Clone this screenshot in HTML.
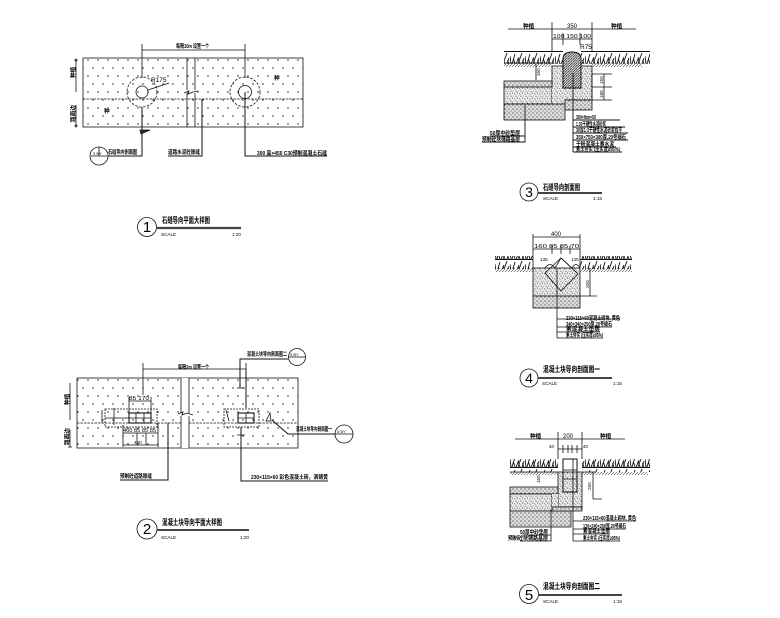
<!DOCTYPE html>
<html><head><meta charset="utf-8"><style>
html,body{margin:0;padding:0;background:#fff;width:780px;height:618px;overflow:hidden}
svg{display:block;filter:blur(.25px)}
text{font-family:"Liberation Sans","Noto Sans CJK SC",sans-serif;fill:#000}
.c{font-weight:700;font-size:5.6px}
.s{font-size:4.6px}
.d{font-size:6.5px}
.t{font-size:8px;font-weight:700}
.n{font-size:15px;text-anchor:middle}
</style></head><body>
<svg width="780" height="618" viewBox="0 0 780 618" xmlns="http://www.w3.org/2000/svg">
<defs>
<pattern id="dots" width="10" height="16" patternUnits="userSpaceOnUse"><circle cx="3" cy="4" r=".7" fill="#111"/><circle cx="8" cy="12" r=".7" fill="#111"/></pattern>
<pattern id="spk" width="5" height="5" patternUnits="userSpaceOnUse"><rect width="5" height="5" fill="#eee"/><circle cx="1" cy="1.2" r=".5" fill="#222"/><circle cx="3.6" cy="1" r=".4" fill="#444"/><circle cx="2.4" cy="3" r=".55" fill="#222"/><circle cx="4.4" cy="3.8" r=".45" fill="#333"/><circle cx=".8" cy="4.3" r=".4" fill="#444"/></pattern>
<pattern id="grav" width="4" height="4" patternUnits="userSpaceOnUse"><rect width="4" height="4" fill="#ddd"/><circle cx="1" cy="1" r=".6" fill="#333"/><circle cx="3" cy="3" r=".55" fill="#444"/></pattern>
<pattern id="hat" width="2.5" height="2.5" patternUnits="userSpaceOnUse"><rect width="2.5" height="2.5" fill="#ddd"/><path d="M0 2.5L2.5 0" stroke="#222" stroke-width=".7"/></pattern>
<pattern id="grass" width="15" height="13" patternUnits="userSpaceOnUse"><path d="M1 12L0 4M2 12L5 2M5 12L3.5 7M6 12L9 5M8 12L12 1M10 12L8 6M12 12L14 6M14 12L12.5 8" stroke="#111" stroke-width=".9" fill="none"/><path d="M0 12.5H15" stroke="#111"/></pattern>
<pattern id="soil" width="3" height="3" patternUnits="userSpaceOnUse"><path d="M0 3L3 0" stroke="#444" stroke-width=".6"/></pattern>
</defs>
<rect width="780" height="618" fill="#fff"/>
<g fill="none" stroke="#111" stroke-width=".8">

<!-- Plan 1 -->
<rect x="83" y="58" width="220" height="69" fill="url(#dots)"/>
<path d="M83 99H303" stroke-dasharray="2.5 1"/>
<path d="M187 58V90M195 58V90M187 93V127M195 93V127M184 93L189 91L188 94L193 92L198 91"/>
<circle cx="142" cy="92" r="15" stroke-dasharray="2.5 1.5"/><circle cx="142" cy="92" r="6"/>
<circle cx="245" cy="92" r="15" stroke-dasharray="2.5 1.5"/><circle cx="245" cy="92" r="6.5"/>
<path d="M148 90L169 83"/>
<path d="M142 44V78M245 44V78M142 50H245M76 60V92M76 105V126"/>
<circle cx="76" cy="60" r="1"/><circle cx="76" cy="126" r="1"/>
<path d="M142 107V156H108M202 99V156H168M245 92V156H327" stroke-width="1"/>
<path d="M140 130H150L141 134Z" fill="#333"/>
<circle cx="99" cy="156" r="9"/><path d="M91 156H107M99 147V156"/>
<circle cx="147" cy="227" r="9.5"/>
<path d="M157 228H241" stroke-width="2.2" stroke="#444"/>

<!-- Plan 2 -->
<rect x="77" y="378" width="221" height="70" fill="url(#dots)"/>
<path d="M77 423H298" stroke-dasharray="2.5 1"/>
<rect x="181" y="378" width="8" height="70" fill="#fff" stroke="none"/>
<path d="M181 378V413M189 378V413M181 416V448M189 416V448M178 414L183 412L182 415L187 413L193 415"/>
<path d="M143 363V395M246 363V395M143 369H246M70 383V420M70 430V447M68 447H72"/>
<rect x="105" y="409" width="52" height="18" stroke-dasharray="2 1"/>
<rect x="129" y="413" width="22" height="10" stroke-width="1.1"/>
<path d="M136 413V423M144 413V423M129 418H151M105 418H129M129 397V413M151 397V413M129 401H151M123 425V447M158 423V447M123 433H158M123 445H158M102 410V423M114 408V425M137 433V445M146 433V445"/>
<rect x="224" y="409" width="35" height="18" stroke-dasharray="2 1"/>
<rect x="238" y="413" width="16" height="10" stroke-width="1.1"/>
<path d="M246 413V423M238 418H254M226 410L229 421M237 388H245M237 435H245M270 413L266 421H271Z"/>
<path d="M240 388V359H288M246 369V408M168 423V480H120M241 427V481H328M272 420L288 434H335" stroke-width="1"/>
<circle cx="297" cy="357" r="8.5"/><path d="M289 357H305"/>
<circle cx="344" cy="434" r="9"/><path d="M335 434H353"/>
<circle cx="147" cy="529" r="10"/>
<path d="M157 530H249" stroke-width="2" stroke="#444"/>

<!-- Section 3 -->
<rect x="504" y="51" width="59" height="13" fill="url(#grass)" stroke="none"/>
<rect x="581" y="51" width="69" height="13" fill="url(#grass)" stroke="none"/>
<rect x="504" y="64" width="48" height="3" fill="url(#soil)" stroke="none"/><rect x="592" y="64" width="50" height="3" fill="url(#soil)" stroke="none"/>
<rect x="552" y="66" width="40" height="34" fill="url(#spk)"/>
<rect x="504" y="81" width="48" height="6" fill="url(#grav)"/>
<rect x="504" y="87" width="48" height="17" fill="url(#spk)"/>
<rect x="552" y="87" width="13" height="17" fill="url(#spk)" stroke="none"/>
<rect x="504" y="104" width="61" height="16" fill="url(#grav)"/>
<rect x="565" y="100" width="27" height="10" fill="url(#grav)"/>
<path d="M563 88V59Q563 52 572 52Q581 52 581 59V88Z" fill="url(#hat)" stroke-width="1"/>
<path d="M508 29H636M552 22V52M592 22V52M552 39H592M563 33V45M580 33V45M504 63H552M592 74V100M592 74H612M592 100H612M604 74V100M592 87H612M536 64V80"/>
<path d="M573 73V152M573 120H620M573 127H625M573 133H628M573 140H628M573 147H616M573 152H622M525 105V142H482M525 136H490" stroke-width=".9"/>
<circle cx="529" cy="192" r="9"/>
<path d="M538 193H602" stroke-width="2" stroke="#444"/>

<!-- Section 4 -->
<rect x="495" y="256" width="38" height="13" fill="url(#grass)" stroke="none"/>
<rect x="580" y="256" width="52" height="13" fill="url(#grass)" stroke="none"/>
<rect x="495" y="269" width="38" height="3" fill="url(#soil)" stroke="none"/><rect x="580" y="269" width="52" height="3" fill="url(#soil)" stroke="none"/>
<rect x="533" y="268" width="47" height="28" fill="url(#spk)"/>
<rect x="533" y="296" width="47" height="12" fill="url(#grav)"/>
<path d="M545 268Q550 261 555 268L561 258L572 268Q576 261 580 268"/>
<path d="M545 273L561 258L578 274L561 291Z"/>
<path d="M533 234V268M580 234V268M533 237H580M533 249H580M552 245V254M561 245V254M570 245V254M580 296H597M590 268V296M557 268V338M557 319H620M557 327H612M557 332H600M557 338H603" stroke-width=".8"/>
<circle cx="529" cy="378" r="9"/>
<path d="M538 378H612" stroke-width="2" stroke="#444"/>

<!-- Section 5 -->
<rect x="510" y="459" width="48" height="13" fill="url(#grass)" stroke="none"/>
<rect x="582" y="459" width="68" height="13" fill="url(#grass)" stroke="none"/>
<rect x="510" y="472" width="48" height="3" fill="url(#soil)" stroke="none"/><rect x="582" y="472" width="66" height="3" fill="url(#soil)" stroke="none"/>
<rect x="558" y="472" width="24" height="35" fill="url(#spk)"/>
<rect x="510" y="487" width="48" height="7" fill="url(#grav)"/>
<rect x="510" y="494" width="42" height="17" fill="url(#spk)"/>
<rect x="552" y="494" width="6" height="13" fill="url(#spk)" stroke="none"/>
<rect x="510" y="511" width="61" height="16" fill="url(#grav)"/>
<rect x="552" y="507" width="30" height="4" fill="url(#grav)"/>
<rect x="563" y="459" width="14" height="33" stroke-width="1"/>
<path d="M563 470H577M563 479H577M510 472H558M582 472H596M593 472V499M593 499H602"/>
<path d="M515 439H625M558 432V459M582 432V459M558 449H582M563 445V453M568 445V453M572 445V453M577 445V453M573 459V541M551 510V541H520M551 535H522M573 521H636M573 529H626M573 534H610M573 541H620" stroke-width=".8"/>
<circle cx="529" cy="594" r="9.5"/>
<path d="M538 595H622" stroke-width="2" stroke="#444"/>
</g>

<g>
<text class="c" x="176" y="48" textLength="33" lengthAdjust="spacingAndGlyphs">每隔10m 设置一个</text>
<text class="c" transform="translate(75,78) rotate(-90)">种植</text>
<text class="c" transform="translate(75,122) rotate(-90)">路面边</text>
<text class="d" x="151" y="82">R175</text>
<text class="c" x="104" y="113">种</text><text class="c" x="274" y="80">种</text>
<text class="s" x="93" y="155" style="font-size:4px">3 BY</text>
<text class="c" x="108" y="154" textLength="29" lengthAdjust="spacingAndGlyphs">石缝导向剖面图</text>
<text class="c" x="168" y="154" textLength="32" lengthAdjust="spacingAndGlyphs">道路水泥砼胀缝</text>
<text class="c" x="257" y="155" textLength="70" lengthAdjust="spacingAndGlyphs">300 高×450 C30预制混凝土石缝</text>
<text class="n" x="147" y="232">1</text>
<text class="t" x="162" y="223" textLength="48" lengthAdjust="spacingAndGlyphs">石缝导向平面大样图</text>
<text class="s" x="161" y="236">SCALE</text><text class="s" x="232" y="236">1:20</text>

<text class="c" x="178" y="369" textLength="31" lengthAdjust="spacingAndGlyphs">每隔2m 设置一个</text>
<text class="c" transform="translate(69,405) rotate(-90)">种植</text>
<text class="c" transform="translate(69,445) rotate(-90)">路面边</text>
<text class="s" x="129" y="400" textLength="20" lengthAdjust="spacingAndGlyphs" style="font-size:5.5px">85 170</text>
<text class="s" x="123" y="432" textLength="33" lengthAdjust="spacingAndGlyphs" style="font-size:5.5px">460 85 85 85</text>
<text class="s" x="134" y="444">460</text>
<text class="c" x="247" y="356" textLength="40" lengthAdjust="spacingAndGlyphs">混凝土块导向剖面图二</text>
<text class="c" x="296" y="431" textLength="36" lengthAdjust="spacingAndGlyphs">混凝土块导向剖面图一</text>
<text class="s" x="290" y="356" style="font-size:4px">5 BY</text>
<text class="s" x="337" y="433" style="font-size:4px">5 BY</text>
<text class="c" x="120" y="478" textLength="32" lengthAdjust="spacingAndGlyphs">预制砼道路胀缝</text>
<text class="c" x="251" y="479" textLength="77" lengthAdjust="spacingAndGlyphs">230×115×60 彩色混凝土砖，满铺黄</text>
<text class="n" x="147" y="534">2</text>
<text class="t" x="162" y="525" textLength="60" lengthAdjust="spacingAndGlyphs">混凝土块导向平面大样图</text>
<text class="s" x="161" y="539">SCALE</text><text class="s" x="240" y="539">1:20</text>

<text class="s" x="567" y="28" style="font-size:6px">350</text>
<text class="c" x="523" y="28">种植</text><text class="c" x="611" y="28">种植</text>
<text class="s" x="553" y="38" textLength="38" lengthAdjust="spacingAndGlyphs" style="font-size:5.5px">100 150 100</text>
<text class="d" x="580" y="49">R75</text>
<text class="s" transform="translate(540,76) rotate(-90)">150</text>
<text class="s" transform="translate(603,84) rotate(-90)">150</text>
<text class="s" transform="translate(603,98) rotate(-90)">180</text>
<text class="c" x="576" y="119" textLength="20" lengthAdjust="spacingAndGlyphs">300×fbm×50</text>
<text class="c" x="576" y="126" textLength="30" lengthAdjust="spacingAndGlyphs">1.30干硬性水泥砂浆</text>
<text class="c" x="576" y="132" textLength="46" lengthAdjust="spacingAndGlyphs">30厚1:3干硬性水泥砂浆找平</text>
<text class="c" x="576" y="139" textLength="50" lengthAdjust="spacingAndGlyphs">350×750×300厚,20号细石</text>
<text class="c" x="576" y="146" textLength="38" lengthAdjust="spacingAndGlyphs">干粉混凝土素水泥</text>
<text class="c" x="576" y="151" textLength="44" lengthAdjust="spacingAndGlyphs">素土夯实 (压实度≥95%)</text>
<text class="c" x="490" y="135" textLength="30" lengthAdjust="spacingAndGlyphs">50厚中砂垫层</text>
<text class="c" x="482" y="141" textLength="38" lengthAdjust="spacingAndGlyphs">预制砼块铺路基层</text>
<text class="n" x="529" y="197" style="font-size:14px">3</text>
<text class="t" x="543" y="190" textLength="37" lengthAdjust="spacingAndGlyphs">石缝导向剖面图</text>
<text class="s" x="543" y="200">SCALE</text><text class="s" x="593" y="200">1:15</text>

<text class="s" x="551" y="236" style="font-size:6px">400</text>
<text class="s" x="534" y="248" textLength="45" lengthAdjust="spacingAndGlyphs" style="font-size:5.5px">160 85 85 70</text>
<text class="s" x="540" y="261">135</text><text class="s" x="571" y="261">135</text>
<text class="s" transform="translate(589,288) rotate(-90)">250</text>
<text class="c" x="566" y="320" textLength="54" lengthAdjust="spacingAndGlyphs">230×115×60混凝土砌块, 黄色</text>
<text class="c" x="566" y="326" textLength="46" lengthAdjust="spacingAndGlyphs">340×340×250厚,20号细石</text>
<text class="c" x="566" y="331" textLength="34" lengthAdjust="spacingAndGlyphs">素混凝土垫层</text>
<text class="c" x="566" y="337" textLength="37" lengthAdjust="spacingAndGlyphs">素土夯实 (压实度≥95%)</text>
<text class="n" x="529" y="383" style="font-size:14px">4</text>
<text class="t" x="543" y="372" textLength="57" lengthAdjust="spacingAndGlyphs">混凝土块导向剖面图一</text>
<text class="s" x="542" y="385">SCALE</text><text class="s" x="613" y="385">1:15</text>

<text class="s" x="563" y="438" style="font-size:6px">200</text>
<text class="c" x="530" y="438">种植</text><text class="c" x="600" y="438">种植</text>
<text class="s" x="549" y="448">40</text><text class="s" x="583" y="448">40</text>
<text class="s" transform="translate(540,483) rotate(-90)">150</text>
<text class="s" transform="translate(591,490) rotate(-90)">250</text>
<text class="c" x="583" y="520" textLength="53" lengthAdjust="spacingAndGlyphs">230×115×60混凝土砌块, 黄色</text>
<text class="c" x="583" y="528" textLength="43" lengthAdjust="spacingAndGlyphs">120×240×250厚,20号细石</text>
<text class="c" x="583" y="533" textLength="27" lengthAdjust="spacingAndGlyphs">素混凝土垫层</text>
<text class="c" x="583" y="540" textLength="37" lengthAdjust="spacingAndGlyphs">素土夯实 (压实度≥95%)</text>
<text class="c" x="520" y="534" textLength="28" lengthAdjust="spacingAndGlyphs">50厚中砂垫层</text>
<text class="c" x="508" y="540" textLength="40" lengthAdjust="spacingAndGlyphs">预制砼块铺路基层</text>
<text class="n" x="529" y="600">5</text>
<text class="t" x="543" y="589" textLength="57" lengthAdjust="spacingAndGlyphs">混凝土块导向剖面图二</text>
<text class="s" x="543" y="603">SCALE</text><text class="s" x="613" y="603">1:15</text>
</g>
</svg>
</body></html>
